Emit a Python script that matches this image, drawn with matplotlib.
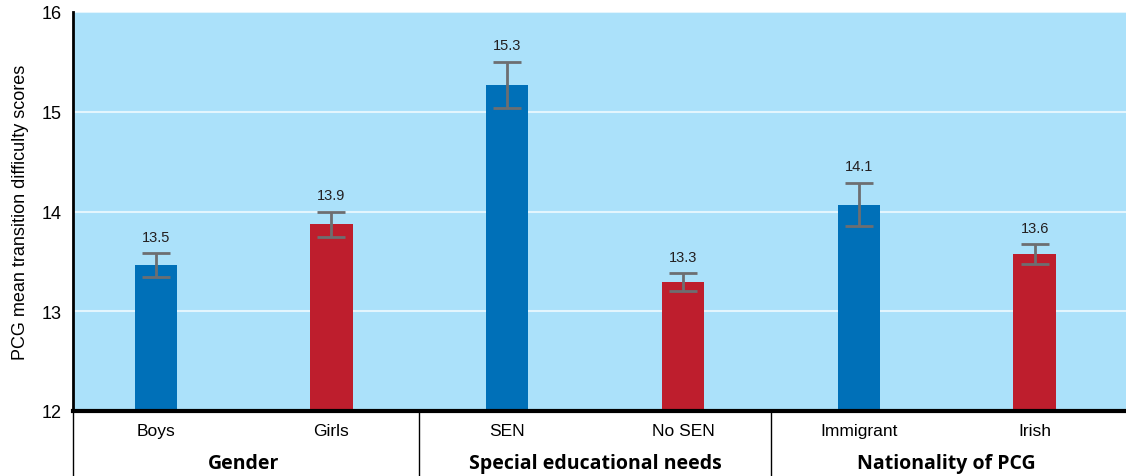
import matplotlib
matplotlib.use('Agg')
import matplotlib.pyplot as plt
import matplotlib.transforms as mtransforms

# Dados
categories = ['Boys', 'Girls', 'SEN', 'No SEN', 'Immigrant', 'Irish']
means = [13.46, 13.87, 15.27, 13.29, 14.07, 13.57]
errors = [0.12, 0.13, 0.23, 0.09, 0.22, 0.10]
value_labels = ['13.5', '13.9', '15.3', '13.3', '14.1', '13.6']
groups = ['Gender', 'Special educational needs', 'Nationality of PCG']

blue = '#0070B8'
red = '#BE1E2D'
colors = [blue, red, blue, red, blue, red]

plt.rcParams['font.family'] = ['Liberation Sans', 'DejaVu Sans']

W, H = 1126, 477
fig = plt.figure(figsize=(W / 100, H / 100), dpi=100)
left, right, top, bottom = 73, 1126, 13, 412
ax = fig.add_axes([left / W, 1 - bottom / H, (right - left) / W, (bottom - top) / H])
ax.set_facecolor('#ABE1FA')

x = list(range(len(categories)))
ax.bar(x, [m - 12 for m in means], bottom=12, width=0.24, color=colors, zorder=2)
ax.errorbar(x, means, yerr=errors, fmt='none', ecolor='#6D6E71', elinewidth=2,
            capsize=10, capthick=2, zorder=3)

# Rótulos dos valores acima das barras de erro
for xi, m, e, lab in zip(x, means, errors, value_labels):
    ax.annotate(lab, (xi, m + e), xytext=(0, 7), textcoords='offset points',
                ha='center', va='bottom', fontsize=10.5, color='#231F20')

ax.set_xlim(-0.47, 5.52)
ax.set_ylim(12, 16)
ax.set_yticks([12, 13, 14, 15, 16])
ax.set_yticklabels(['12', '13', '14', '15', '16'], fontsize=13)
ax.yaxis.grid(True, color='#E3F5FD', linewidth=1.5, zorder=1)
ax.set_axisbelow(True)
ax.tick_params(axis='y', length=0, pad=8)
ax.set_xticks(x)
ax.set_xticklabels(categories, fontsize=12.5)
ax.tick_params(axis='x', length=0, pad=9)
ax.set_ylabel('PCG mean transition difficulty scores', fontsize=13, labelpad=9)

for side in ['top', 'right']:
    ax.spines[side].set_visible(False)
ax.spines['left'].set_linewidth(2)
ax.spines['bottom'].set_linewidth(3)

# Linhas separadoras dos grupos abaixo do eixo
trans = mtransforms.blended_transform_factory(ax.transData, ax.transAxes)
below = -(H - bottom) / (bottom - top)
for sx in [-0.47, 1.5, 3.5]:
    ax.plot([sx, sx], [0, below], transform=trans, color='black', linewidth=1,
            clip_on=False)

for i, g in enumerate(groups):
    ax.text(2 * i + 0.5, below * 0.8, g, transform=trans, ha='center', va='center',
            fontsize=14, fontweight='bold', family=['Open Sans', 'DejaVu Sans'])

plt.savefig('out.png', dpi=100)
